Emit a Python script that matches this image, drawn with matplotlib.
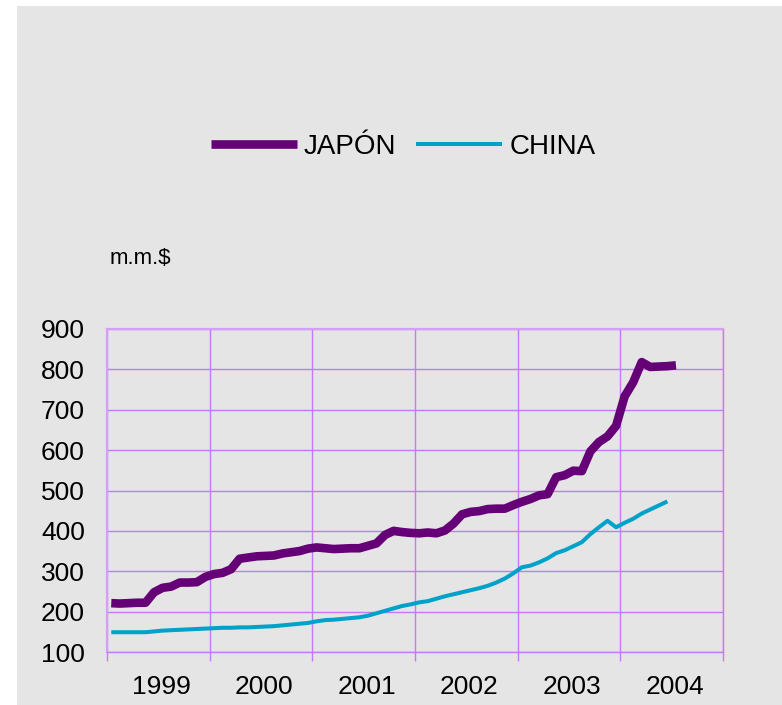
import numpy as np
import matplotlib.pyplot as plt
from matplotlib.patches import Rectangle
from matplotlib.transforms import ScaledTranslation

plt.rcParams['font.family'] = ['Liberation Sans', 'DejaVu Sans']

# monthly reserves, m.m.$ (Jan 1999 onwards)
japon = [221, 220, 221, 222, 222, 248, 259, 262, 272, 272, 273, 286,
         293, 296, 305, 331, 334, 337, 338, 339, 344, 347, 350, 356,
         359, 357, 355, 356, 357, 357, 363, 369, 390, 400, 397, 395,
         394, 396, 394, 401, 418, 441, 447, 449, 454, 455, 455, 464,
         472, 479, 488, 491, 533, 538, 549, 548, 597, 620, 634, 660,
         733, 768, 818, 806, 807, 808, 810]
china = [149, 149, 149, 149, 149, 151, 153, 154, 155, 156, 157, 158,
         159, 160, 160, 161, 161, 162, 163, 164, 166, 168, 170, 172,
         176, 179, 180, 182, 184, 186, 190, 196, 202, 208, 214, 218,
         223, 226, 232, 238, 243, 248, 253, 258, 264, 272, 282, 295,
         310, 314, 322, 332, 345, 352, 362, 372, 392, 409, 425, 409,
         420, 430, 443, 453, 463, 473]
years = ['1999', '2000', '2001', '2002', '2003', '2004']

bg = '#e5e5e5'
grid_c = '#c678fa'
edge_c = '#d69ff6'

fig = plt.figure(figsize=(7.82, 7.05), dpi=100, facecolor='white')
fig.patches.append(Rectangle((17 / 782, 0), 1, 1 - 6 / 705, transform=fig.transFigure,
                             facecolor=bg, edgecolor='none', zorder=-10))

ax = fig.add_axes([107 / 782, 1 - 652 / 705, 616 / 782, 323 / 705])
ax.set_facecolor(bg)

x_jp = np.arange(len(japon)) + 0.5
x_cn = np.arange(len(china)) + 0.5
ax.plot(x_jp, japon, color='#660077', lw=6.2, solid_capstyle='butt',
        solid_joinstyle='round', label='JAPÓN')
ax.plot(x_cn, china, color='#00a2c9', lw=2.9, solid_capstyle='butt',
        solid_joinstyle='round', label='CHINA')

ax.set_xlim(0, 12 * len(years))
ax.set_ylim(100, 900)
ax.set_yticks(np.arange(100, 1000, 100))
ax.set_xticks(np.arange(0, 12 * len(years) + 1, 12))
ax.set_xticklabels([])
ax.set_xticks(np.arange(6, 12 * len(years), 12), minor=True)
ax.set_xticklabels(years, minor=True)

ax.set_axisbelow(True)
ax.grid(True, which='major', color=grid_c, lw=1.0)
ax.tick_params(axis='x', which='major', length=6.5, width=1.0, color=grid_c, direction='out')
ax.tick_params(axis='x', which='minor', length=0, pad=16.5, labelsize=19)
ax.tick_params(axis='y', length=0, pad=16, labelsize=19)

for lab in ax.get_xticklabels(minor=True):
    lab.set_transform(lab.get_transform() + ScaledTranslation(3 / 100, 0, fig.dpi_scale_trans))

for side in ['top', 'left']:
    ax.spines[side].set_color(edge_c)
    ax.spines[side].set_linewidth(1.6)
for side in ['right', 'bottom']:
    ax.spines[side].set_color(grid_c)
    ax.spines[side].set_linewidth(1.0)

fig.text(110 / 782, 1 - 259 / 705, 'm.m.$', fontsize=16, ha='left', va='center')

fig.legend(loc='center', bbox_to_anchor=(403 / 782, 1 - 147 / 705), ncol=2, frameon=False,
           fontsize=20, handlelength=3.1, handletextpad=0.25, columnspacing=0.72)

fig.savefig('out.png', dpi=100, facecolor='white')
